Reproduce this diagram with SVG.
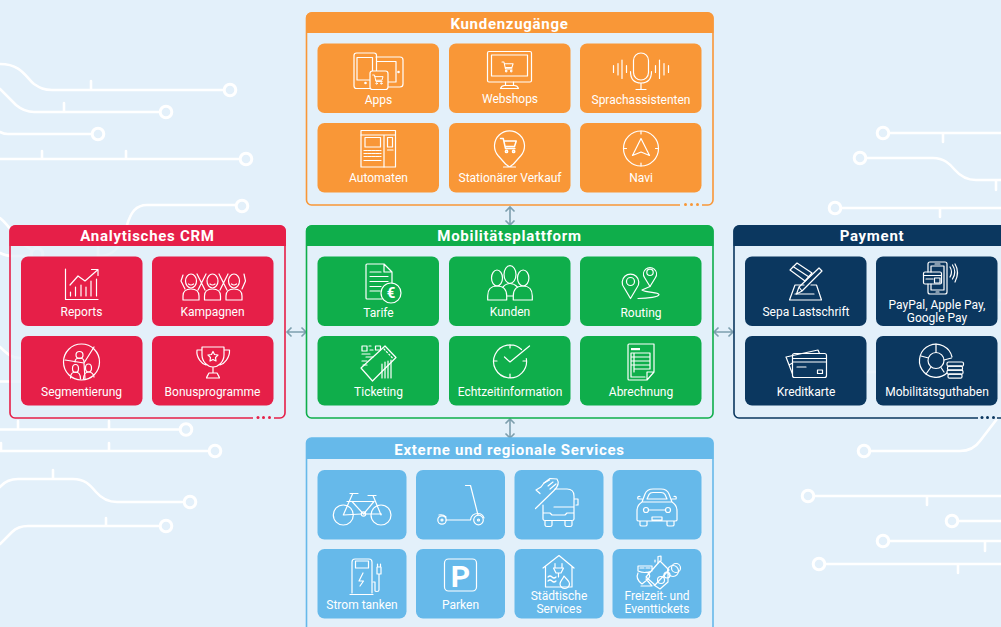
<svg xmlns="http://www.w3.org/2000/svg" width="1001" height="627" viewBox="0 0 1001 627">
<style>
text{font-family:"Roboto","Liberation Sans",sans-serif;fill:#fff;text-anchor:middle}
.t{font-size:15px;font-weight:700;letter-spacing:.72px}
.l{font-size:12px;font-weight:400;letter-spacing:0}
.bg path{fill:none;stroke:#fff;stroke-width:2.6;stroke-linecap:round}
.bg circle{fill:#e3f0fa;stroke:#fff;stroke-width:3}
.ic,.ic *{fill:none;stroke:#fff;stroke-width:1.2;stroke-linecap:round;stroke-linejoin:round}
.ic .f{fill:#fff;stroke:none}
.ic text{fill:#fff;stroke:none;font-size:15px;font-weight:700}
.conn path{fill:none;stroke:#7d9fae;stroke-width:1.6}
.o{fill:#f99737}.g{fill:#0fae4b}.r{fill:#e61f48}.n{fill:#0b375f}.b{fill:#66b9ea}
.os{stroke:#f99737}.gs{stroke:#0fae4b}.rs{stroke:#e61f48}.ns{stroke:#0b375f}.bs{stroke:#66b9ea}
.p{fill:#e3f0fa;fill-opacity:.78;stroke-width:1.6}
</style>
<defs>
<g id="cart"><path d="M0 0h2.200l1.800 8h7.500M2.600 2h10l-1.400 4.400H3.600"/><circle cx="4.800" cy="10.300" r=".9"/><circle cx="10.500" cy="10.300" r=".9"/></g>
</defs>
<rect width="1001" height="627" fill="#e3f0fa"/>
<g class="bg" id="background">
<path d="M0 64C22 64 26 78 34 84C40 88 44 90 52 90H224M91 90V81"/><circle cx="230" cy="90" r="5.800"/>
<path d="M0 89L16 105C22 110 27 112 34 112H160M64 112V103"/><circle cx="166" cy="112" r="5.800"/>
<path d="M0 132Q4 134 8 134H92"/><circle cx="98" cy="134" r="5.800"/>
<path d="M0 159H240M42 159V151M126 159V151"/><circle cx="246" cy="159" r="5.800"/>
<path d="M98 256C114 256 120 247 123 236L127 225C131 212 136 205 147 205H236M98 256V247"/><circle cx="242" cy="206" r="5.800"/>
<path d="M0 218C10 226 14 236 22 244L34 251M0 253Q6 256 14 256H32"/><circle cx="37" cy="254" r="5.800"/>
<path d="M0 347C7 354 12 358 20 358H30M0 381.500H60"/>
<path d="M0 429.500H180M18 429.500V421M109 429.500V421"/><circle cx="186" cy="429.500" r="5.800"/>
<path d="M0 451H209M1 451V443M109 451V443"/><circle cx="215" cy="451" r="5.800"/>
<path d="M0 487C5 481 11 479 18 479H73C85 479 90 485 96 492C102 499 109 502 117 502H184M53 479V470"/><circle cx="190" cy="502" r="5.800"/>
<path d="M0 544L12 532C17 527 22 526 28 526H160M106 526V518"/><circle cx="166" cy="526" r="5.800"/>
<path d="M889 133H1001M943 133V142"/><circle cx="883" cy="133" r="5.800"/>
<path d="M866 158H933C944 158 950 164 955 170C961 177 968 180 976 180H1001M996 180V190"/><circle cx="860" cy="158" r="5.800"/>
<path d="M841 208H1001M940 208V217"/><circle cx="835" cy="208" r="5.800"/>
<path d="M870 451H960C968 451 975 448 980 441L1003 411M860 372H1001M970 300H1001"/><circle cx="864" cy="451" r="5.800"/>
<path d="M814 496H1001M927 496V505"/><circle cx="808" cy="496" r="5.800"/>
<path d="M958 521H1001"/><circle cx="952" cy="521" r="5.800"/>
<path d="M889 541H1001M985 541V551"/><circle cx="883" cy="541" r="5.800"/>
<path d="M825 564H1001M958 564V573"/><circle cx="819" cy="564" r="5.800"/>
</g>
<g id="connectors" class="conn">
<path d="M510 207V225M505.500 211.500L510 207L514.500 211.500M505.500 220.500L510 225L514.500 220.500"/>
<path d="M510 419V438M505.500 423.500L510 419L514.500 423.500M505.500 433.500L510 438L514.500 433.500"/>
<path d="M287 332H306M291.500 327.500L287 332L291.500 336.500M301.500 327.500L306 332L301.500 336.500"/>
<path d="M714 332H733M718.500 327.500L714 332L718.500 336.500M728.500 327.500L733 332L728.500 336.500"/>
</g>

<g id="kundenzugaenge">
<rect class="p os" x="306.500" y="13" width="406.500" height="192" rx="5"/>
<path class="o" d="M306 18a6 6 0 0 1 6-6h395.500a6 6 0 0 1 6 6v15H306z"/>
<path stroke="#e3f0fa" stroke-width="3" d="M680 205H702"/>
<g class="o"><circle cx="685.500" cy="204.500" r="1.500"/><circle cx="691.500" cy="204.500" r="1.500"/><circle cx="697.500" cy="204.500" r="1.500"/></g>
<text class="t" x="509.500" y="29">Kundenzugänge</text>
</g>
<g id="apps"><rect class="o" x="317.500" y="43.500" width="121.500" height="69.500" rx="7"/>
<g class="ic"><path d="M376 57H400a3 3 0 0 1 3 3v24a3 3 0 0 1-3 3H388M376.500 61.500H396V82H388"/><rect x="354" y="53" width="22.500" height="35.500" rx="2.500"/><path d="M357 80V57.500h15.500V71M357 80h12.500"/><circle class="f" cx="365.500" cy="83" r="1.300"/><circle class="f" cx="398.500" cy="72" r="1.300"/><rect x="370" y="71" width="18" height="18.500" rx="2.500" style="fill:#f99737"/><use href="#cart" transform="translate(372.700 75) scale(.82)"/></g>
<text class="l" x="378.500" y="104">Apps</text></g>
<g id="webshops"><rect class="o" x="449" y="43.500" width="121.500" height="69.500" rx="7"/>
<g class="ic"><rect x="487.500" y="51.500" width="44" height="30.500" rx="1.500"/><rect x="491.500" y="55" width="36" height="21"/><path d="M500.500 88.500q1-3 4-3h10q3 0 4 3zM505.500 82v3.500M513.500 82v3.500"/><use href="#cart" transform="translate(502 62) scale(.88)"/></g>
<text class="l" x="510" y="103">Webshops</text></g>
<g id="sprachassistenten"><rect class="o" x="580" y="43.500" width="121.500" height="69.500" rx="7"/>
<g class="ic"><rect x="633.500" y="53" width="15" height="27" rx="7.500"/><path d="M630.500 71.500c0 8 4.500 11.500 10.500 11.500s10.500-3.500 10.500-11.500M641 83V89.500M636 89.500H646M613.500 65.500V72.500M618 63.500V75M622 60V78.500M626.500 65.500V72.500M655.500 65.500V72.500M659.500 60V78.500M664 63.500V75M668.500 65.500V72.500"/></g>
<text class="l" x="641" y="104">Sprachassistenten</text></g>
<g id="automaten"><rect class="o" x="317.500" y="123" width="121.500" height="69.500" rx="7"/>
<g class="ic"><rect x="361" y="130.500" width="34.500" height="36.500"/><path d="M361 135H395.500M384 135V167M387.500 150H393M364 160.500H381"/><rect x="365" y="137.500" width="15.500" height="9.500"/><rect x="387.500" y="137.500" width="5" height="9.500"/><path stroke-dasharray="3 1" d="M364 150.500H381M364 153.500H381M364 156.500H381"/></g>
<text class="l" x="378.500" y="182">Automaten</text></g>
<g id="stationaer"><rect class="o" x="449" y="123" width="121.500" height="69.500" rx="7"/>
<g class="ic"><path d="M505.500 164L498 155.500A15 15 0 1 1 521 155.500L513.500 164M503.500 167H515.500M505.500 164L509.500 167L513.500 164"/><use href="#cart" transform="translate(500.500 138.500) scale(1.25)"/></g>
<text class="l" x="510" y="182">Stationärer Verkauf</text></g>
<g id="navi"><rect class="o" x="580" y="123" width="121.500" height="69.500" rx="7"/>
<g class="ic"><circle cx="641" cy="148.500" r="17.500"/><path d="M641 131V134M641 163V166M623.500 148.500H626.500M655.500 148.500H658.500M641 138.500L649.500 155.500L641 152L632.500 155.500Z"/></g>
<text class="l" x="641" y="182">Navi</text></g>

<g id="mobilitaetsplattform">
<rect class="p gs" x="306.500" y="226" width="406.500" height="192" rx="5"/>
<path class="g" d="M306 231a6 6 0 0 1 6-6h395.500a6 6 0 0 1 6 6v15H306z"/>
<text class="t" x="509.500" y="241">Mobilitätsplattform</text>
</g>
<g id="tarife"><rect class="g" x="317.500" y="256.500" width="121.500" height="69.500" rx="7"/>
<g class="ic"><path d="M382 299H367a1 1 0 0 1-1-1V265a1 1 0 0 1 1-1H384L392 272V283M384 264V272H392M370 272H381M370 276.500H388M370 281.500H388M370 286.500H381M370 291H380"/><circle cx="391" cy="293" r="10"/><text x="391" y="298">€</text></g>
<text class="l" x="378.500" y="317">Tarife</text></g>
<g id="kunden"><rect class="g" x="449" y="256.500" width="121.500" height="69.500" rx="7"/>
<g class="ic"><ellipse cx="510" cy="274.500" rx="6" ry="8.800"/><ellipse cx="497" cy="278" rx="5.500" ry="8"/><ellipse cx="523.200" cy="278" rx="5.700" ry="8"/><path d="M487.700 300V296Q487.700 286 497 286Q506.700 286 506.700 296V300ZM513.300 300V296Q513.300 286 523 286Q532.300 286 532.300 296V300ZM506.700 296H513.300M503 287Q506 283.500 510 283.500T517.500 287"/></g>
<text class="l" x="510" y="316">Kunden</text></g>
<g id="routing"><rect class="g" x="580" y="256.500" width="121.500" height="69.500" rx="7"/>
<g class="ic"><path d="M630.500 298.500L624 287.500a8.300 8.300 0 1 1 13 0z"/><circle cx="630.500" cy="281.500" r="4"/><path d="M650 286.500L644.500 277.500a6.500 6.500 0 1 1 11 0z"/><circle cx="650" cy="272.300" r="3.200"/><path d="M650 286.500L642 290C647 293 658 292 659 294.500C659 297 648 298.500 638 298.500"/></g>
<text class="l" x="641" y="317">Routing</text></g>
<g id="ticketing"><rect class="g" x="317.500" y="336" width="121.500" height="69.500" rx="7"/>
<g class="ic"><path d="M361 368L385 346L396 357.500L372.500 381Z"/><path stroke-dasharray="1.500 2" d="M384 349L392.500 358"/><rect x="362" y="346" width="5" height="5"/><rect x="375.500" y="346" width="5" height="4"/><path d="M369 346h2M370 350h3M362 354h8M366 357h7M362 361h5M363 365h4"/><path d="M382 364V378M385 362V378M388 361V378M391 360V378"/></g>
<text class="l" x="378.500" y="396">Ticketing</text></g>
<g id="echtzeit"><rect class="g" x="449" y="336" width="121.500" height="69.500" rx="7"/>
<g class="ic"><path d="M521.500 349.500A16.500 16.500 0 1 0 526.300 358.500M510 344.500V348M510 374V377.500M493.500 361H497M523 361H526.500"/><path stroke-width="1.400" d="M504.500 357L510 362L529.500 346"/></g>
<text class="l" x="510" y="396">Echtzeitinformation</text></g>
<g id="abrechnung"><rect class="g" x="580" y="336" width="121.500" height="69.500" rx="7"/>
<g class="ic"><path d="M628 345a1 1 0 0 1 1-1H654V372L647 380H629a1 1 0 0 1-1-1ZM647 380V372H654"/><path class="f" d="M631 348h9v2.200h-9z"/><path d="M631 353H650V369H634M631 353V377H645M634 353V372M631 357H650M631 361H650M631 365H650"/></g>
<text class="l" x="641" y="396">Abrechnung</text></g>

<g id="crm">
<rect class="p rs" x="10" y="226" width="275" height="192" rx="5"/>
<path class="r" d="M9.500 231a6 6 0 0 1 6-6H280a6 6 0 0 1 6 6v15H9.500z"/>
<path stroke="#e3f0fa" stroke-width="3" d="M253 418H274"/>
<g class="r"><circle cx="258" cy="417.500" r="1.500"/><circle cx="263.500" cy="417.500" r="1.500"/><circle cx="269.500" cy="417.500" r="1.500"/></g>
<text class="t" x="147.500" y="241">Analytisches CRM</text>
</g>
<g id="reports"><rect class="r" x="21" y="256.500" width="121.500" height="69.500" rx="7"/>
<g class="ic"><path d="M65.500 269V299.500H98M70.500 296V292M75.500 296V287M81 296V285M86 296V287M91 296V281M96.500 296V279M70 285L78 276L85 281L97.500 270M91.500 269.500H98V275.500"/></g>
<text class="l" x="81.500" y="316">Reports</text></g>
<g id="kampagnen"><rect class="r" x="152" y="256.500" width="121.500" height="69.500" rx="7"/>
<g class="ic"><ellipse cx="191" cy="281" rx="5.500" ry="7"/><ellipse cx="212.500" cy="281" rx="5.500" ry="7"/><ellipse cx="234" cy="281" rx="5.500" ry="7"/><path d="M183 300v-4c0-5 3.500-7 8-7s8 2 8 7v4zM204.500 300v-4c0-5 3.500-7 8-7s8 2 8 7v4zM226 300v-4c0-5 3.500-7 8-7s8 2 8 7v4zM183 275L181 281L185 289M197 274L205 290M206 274L201 284M198 290L203 280M219 274L227 290M228 274L220 290M244 274L245.500 281L242 289M188.500 284Q191 286 193.500 284M210 284Q212.500 286 215 284M231.500 284Q234 286 236.500 284"/></g>
<text class="l" x="212.500" y="316">Kampagnen</text></g>
<g id="segmentierung"><rect class="r" x="21" y="336" width="121.500" height="69.500" rx="7"/>
<g class="ic"><circle cx="81.500" cy="362" r="18"/><path d="M65 360L84 363L94 347M84 363L85 379"/><circle cx="79.500" cy="355" r="3.500"/><path d="M75 362c0-3 2-4 4.500-4s4.500 1 4.500 4"/><ellipse cx="75.500" cy="368.500" rx="3" ry="4"/><ellipse cx="88.500" cy="368" rx="3" ry="4"/><path d="M70.500 378c0-4 2-6 5-6s5 2 5 7M83.500 379c0-4 2-7 5-7s5 2 5.500 5"/></g>
<text class="l" x="81.500" y="396">Segmentierung</text></g>
<g id="bonus"><rect class="r" x="152" y="336" width="121.500" height="69.500" rx="7"/>
<g class="ic"><path d="M202 347H224V355C224 362 218 367 213 367S202 362 202 355ZM202 350H197C196 358 202 364 206 365M224 350H229.500C230 358 224 364 220 365M213 367V373M209 373H217C218 375 219 376 219.500 378H206.500C207 376 208 375 209 373Z"/><path d="M213 351.500L214.500 354.500L218 355L215.500 357.500L216 361L213 359.500L210 361L210.500 357.500L208 355L211.500 354.500Z"/></g>
<text class="l" x="212.500" y="396">Bonusprogramme</text></g>

<g id="payment">
<rect class="p ns" x="734" y="226" width="290" height="192" rx="5"/>
<path class="n" d="M733.500 231a6 6 0 0 1 6-6H1010v21H733.500z"/>
<path stroke="#e3f0fa" stroke-width="3" d="M978 418H997"/>
<g class="n"><circle cx="982" cy="417.500" r="1.500"/><circle cx="987.500" cy="417.500" r="1.500"/><circle cx="993.500" cy="417.500" r="1.500"/></g>
<text class="t" x="872" y="241">Payment</text>
</g>
<g id="sepa"><rect class="n" x="745" y="256.500" width="121.500" height="69.500" rx="7"/>
<g class="ic"><path d="M790 270L797 263L812 273L805 281ZM793 266.500L809 277M789.500 300H821.500L816.500 285H811M804 285H795L789.500 300M795 294H814"/><path stroke-width="1.500" d="M796.500 294L799 287L819 268L822 271L802 291ZM799 287L802 291"/></g>
<text class="l" x="806" y="316">Sepa Lastschrift</text></g>
<g id="paypal"><rect class="n" x="876" y="256.500" width="121.500" height="69.500" rx="7"/>
<g class="ic"><path d="M928 272V264a2 2 0 0 1 2-2H945a2 2 0 0 1 2 2V292a2 2 0 0 1-2 2H930a2 2 0 0 1-2-2V284M931 272V266H944V290H931V284M935 264H940M936 292H939"/><rect x="923.500" y="272" width="18" height="12" rx="1.500"/><path d="M923.500 275.500H941.500M926 279H933M934.500 278H940V283H934.500Z"/><path d="M950 267Q953 272 950 277M952.500 265Q957 272 952.500 279M955 264Q960 272 955 282"/></g>
<text class="l" x="937" y="309">PayPal, Apple Pay,</text>
<text class="l" x="937" y="322">Google Pay</text></g>
<g id="kreditkarte"><rect class="n" x="745" y="336" width="121.500" height="69.500" rx="7"/>
<g class="ic"><rect x="792.500" y="353.500" width="34" height="24" rx="2"/><path d="M792.500 358.500H826.500M792.500 362H826.500M797 367H806"/><rect x="817.500" y="370" width="5" height="3.500"/><path d="M792.500 374L786 357L818 350L819.500 353.500M789 365L792.500 363"/></g>
<text class="l" x="806" y="396">Kreditkarte</text></g>
<g id="guthaben"><rect class="n" x="876" y="336" width="121.500" height="69.500" rx="7"/>
<g class="ic"><path d="M947 373A16.500 16.500 0 1 1 952 357"/><circle cx="936" cy="360.500" r="8"/><path d="M936 344V352.500M921 356L928.500 358M944 360L951.500 358M931 367L926 374M941 367.500L944 372"/><rect x="947" y="362" width="16.500" height="4.200" rx="1.500"/><rect x="947.500" y="366.200" width="15" height="4" rx="1.500"/><rect x="947" y="370.200" width="16" height="4" rx="1.500"/><rect x="948" y="374.200" width="14" height="4" rx="1.500"/></g>
<text class="l" x="937" y="396">Mobilitätsguthaben</text></g>

<g id="services">
<path class="p bs" d="M306.500 640V443a5 5 0 0 1 5-5H708a5 5 0 0 1 5 5V640z"/>
<path class="b" d="M306 444a6 6 0 0 1 6-6h395.500a6 6 0 0 1 6 6v15H306z"/>
<text class="t" x="509.500" y="455">Externe und regionale Services</text>
</g>
<g id="fahrrad"><rect class="b" x="317.500" y="470" width="89" height="69.500" rx="7"/>
<g class="ic"><circle cx="343.300" cy="515" r="10"/><circle cx="381" cy="515" r="10"/><path d="M343.300 515L352.500 494M350 493.500H358M347 501.500H374M352 501.500L363.500 514M374 501.500L363.500 514H381.500M368 495.500H376M373 495.500L381 515M343.300 515L361.500 514"/><circle cx="363.500" cy="514" r="2.200"/></g></g>
<g id="scooter"><rect class="b" x="416" y="470" width="89" height="69.500" rx="7"/>
<g class="ic"><path d="M465.500 485.500H470.500L478 515"/><circle cx="478.500" cy="520" r="4.800"/><circle cx="478.500" cy="520" r="1"/><circle cx="442" cy="520" r="4.200"/><circle cx="442" cy="520" r="1"/><path d="M446 520H470.500C471 516 474 513.500 478 513.500C481 513.500 483 515 484 518M439 515C441 514.500 444 515 446 517"/></g></g>
<g id="carsharing"><rect class="b" x="514.500" y="470" width="89" height="69.500" rx="7"/>
<g class="ic"><path d="M555 489H567Q574 489 574 496V519Q574 520.500 572 520.500H545Q543 520.500 543 519V505M574 507H554M543 513H550L552 515H565L567 513H574M545 521V525Q545 526.500 547 526.500H550Q552 526.500 552 525V521M565 521V525Q565 526.500 567 526.500H570Q572 526.500 572 525V521M574 499H578V505H576"/><path d="M535.500 508.500L554 490.500C558 486.500 559 482 557 479L550 478.500L544 483L541 487L536 490L540 493.500"/><path d="M544 483L549.500 480M548 486L553 482M550 489L556 484"/></g></g>
<g id="auto"><rect class="b" x="612.500" y="470" width="89" height="69.500" rx="7"/>
<g class="ic"><path d="M642 502L645 494Q647 489 653 489H661Q667 489 669 494L672 502Q677 505 677 511V520Q677 521 675 521H639Q637 521 637 520V511Q637 505 642 502ZM647 499L649 494.500Q650 492.500 653 492.500H661Q664 492.500 665 494.500L667 499ZM642 502H672M649 510H665M652 517H662V520H652ZM640 521V525Q640 526 642 526H645Q647 526 647 525V521M667 521V525Q667 526 669 526H672Q674 526 674 525V521M642 499H638Q637 496 640 496.500M672 499H676Q677 496 674 496.500"/><circle cx="646" cy="510" r="2.500"/><circle cx="668" cy="510" r="2.500"/></g></g>
<g id="strom"><rect class="b" x="317.500" y="549" width="89" height="69.500" rx="7"/>
<g class="ic"><path d="M352 593V562a3 3 0 0 1 3-3H369a3 3 0 0 1 3 3V593M350 594.500H373"/><rect x="355.500" y="561" width="13" height="7"/><path stroke-width="1.500" d="M363 573L359 581H363.500L360 586"/><path d="M373 582H375V591Q375 591.500 377 591.500 Q379 591.500 379 590V574M377 574H381V567H377ZM377.500 564V567M380.500 564V567"/></g>
<text class="l" x="362" y="609">Strom tanken</text></g>
<g id="parken"><rect class="b" x="416" y="549" width="89" height="69.500" rx="7"/>
<g class="ic"><rect x="444.500" y="559" width="32" height="32" rx="4"/></g>
<text x="460.500" y="586.500" font-size="30" font-weight="700">P</text>
<text class="l" x="460.500" y="609">Parken</text></g>
<g id="staedtisch"><rect class="b" x="514.500" y="549" width="89" height="69.500" rx="7"/>
<g class="ic"><path d="M543 568L559 555.500L574 568M545.500 566.500V587H572V566.500M555 563.500V568M562 563.500V568M553.500 568H563.500L561 573H556ZM558.500 573V577M548 577Q550 575 552 577T556 577M548 581Q550 579 552 581T556 581"/><path d="M564 576C567 580 569.500 581 569.500 583.500A4.500 4.500 0 0 1 560 584C560 581 563 579 564 576Z"/></g>
<text class="l" x="559" y="600">Städtische</text>
<text class="l" x="559" y="613">Services</text></g>
<g id="freizeit"><rect class="b" x="612.500" y="549" width="89" height="69.500" rx="7"/>
<g class="ic"><path d="M638 566H652V571Q645 574 638 571ZM640 568H644M646 568H650M638 573C636 577 638 581 642 584L647 580C652 576 649 573 646 572M641 586L652 586 646 579M660 561L669 570L655 585L646 577ZM654 585L660 589L668 582V570"/><circle cx="661" cy="580" r="3.500"/><circle cx="667" cy="575" r="3"/><circle cx="673" cy="571" r="5.500"/><circle cx="676" cy="568" r="4.500"/><path d="M655 562V560M658 563V556.500L661 556V560.500"/></g>
<text class="l" x="657" y="600">Freizeit- und</text>
<text class="l" x="657" y="613">Eventtickets</text></g>
</svg>
